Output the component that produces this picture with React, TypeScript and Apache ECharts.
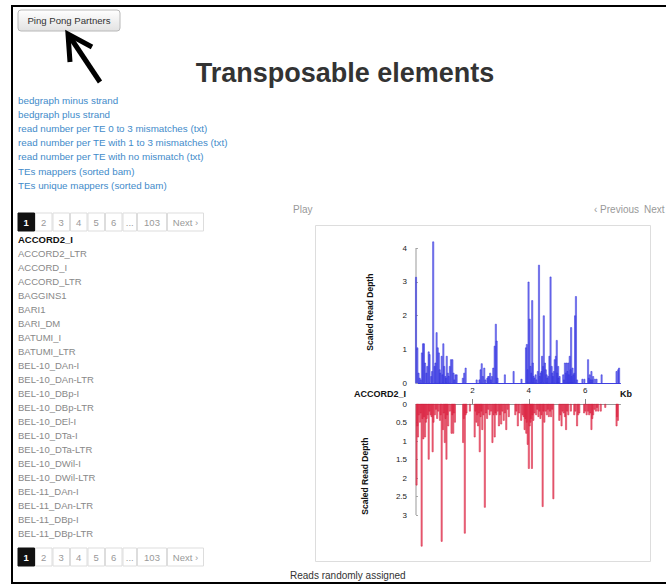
import React, { useEffect, useRef } from "react";
import * as echarts from "echarts";

// ---- Data ----
const plusKb = [0.0, 0.05, 0.09, 0.13, 0.17, 0.21, 0.25, 0.28, 0.32, 0.37, 0.4, 0.45, 0.48, 0.54, 0.57, 0.61, 0.66, 0.69, 0.73, 0.77, 0.81, 0.84, 0.86, 0.91, 0.94, 0.97, 1.0, 1.04, 1.07, 1.09, 1.13, 1.16, 1.2, 1.24, 1.29, 1.33, 1.36, 1.4, 1.44, 1.66, 1.71, 1.76, 2.15, 2.25, 2.29, 2.33, 2.37, 2.42, 2.46, 2.53, 2.56, 2.59, 2.63, 2.66, 2.69, 2.74, 2.79, 2.83, 2.86, 2.89, 3.15, 3.46, 3.74, 3.9, 3.93, 3.96, 3.99, 4.03, 4.06, 4.09, 4.12, 4.14, 4.17, 4.2, 4.24, 4.27, 4.32, 4.36, 4.39, 4.42, 4.45, 4.47, 4.51, 4.53, 4.57, 4.6, 4.63, 4.66, 4.69, 4.73, 4.77, 4.81, 4.83, 4.86, 4.89, 4.92, 4.96, 4.99, 5.01, 5.04, 5.06, 5.09, 5.22, 5.25, 5.28, 5.31, 5.34, 5.37, 5.4, 5.42, 5.45, 5.48, 5.5, 5.53, 5.55, 5.58, 5.61, 5.64, 5.67, 5.71, 5.9, 5.97, 6.1, 6.13, 6.16, 6.19, 6.22, 6.25, 6.28, 6.34, 6.4, 6.58, 7.11, 7.17, 7.2];
const plusDepth = [3.14, 1.05, 0.3, 0.15, 0.1, 0.9, 1.17, 1.17, 0.6, 0.3, 0.5, 0.93, 0.85, 0.2, 0.35, 4.19, 0.5, 0.6, 1.5, 1.05, 0.9, 0.4, 0.3, 0.8, 0.25, 1.17, 0.5, 0.2, 0.15, 0.8, 0.3, 0.2, 0.5, 0.7, 0.7, 0.3, 0.1, 0.25, 0.25, 0.15, 0.3, 0.45, 0.1, 0.1, 0.4, 0.58, 0.2, 0.45, 0.1, 0.15, 0.2, 0.2, 0.3, 0.1, 0.2, 0.45, 1.1, 1.75, 1.25, 0.15, 0.25, 0.35, 0.12, 1.05, 1.15, 0.4, 3.0, 1.9, 0.5, 0.3, 2.45, 0.6, 0.2, 0.15, 0.25, 0.1, 0.35, 3.5, 0.2, 0.3, 0.35, 0.8, 0.5, 2.0, 0.6, 0.4, 0.25, 0.15, 0.2, 0.8, 3.15, 0.5, 0.3, 0.2, 0.35, 0.7, 0.8, 1.27, 0.3, 0.5, 0.15, 0.2, 0.25, 0.1, 0.6, 0.3, 0.6, 0.35, 0.6, 0.25, 0.8, 0.4, 1.65, 0.2, 0.45, 0.25, 0.3, 2.0, 2.57, 0.1, 0.12, 0.12, 0.7, 0.15, 0.25, 0.1, 0.35, 0.1, 0.2, 0.12, 0.12, 0.25, 0.35, 0.4, 0.45];

const minusKb = [0.02, 0.05, 0.07, 0.1, 0.14, 0.17, 0.2, 0.23, 0.26, 0.29, 0.32, 0.35, 0.38, 0.42, 0.45, 0.48, 0.52, 0.55, 0.59, 0.62, 0.67, 0.71, 0.75, 0.79, 0.85, 0.88, 0.91, 0.96, 0.99, 1.02, 1.05, 1.08, 1.11, 1.14, 1.2, 1.26, 1.29, 1.32, 1.35, 1.38, 1.67, 1.7, 1.73, 1.76, 1.79, 1.91, 2.08, 2.11, 2.14, 2.17, 2.2, 2.23, 2.26, 2.29, 2.32, 2.35, 2.39, 2.44, 2.48, 2.52, 2.56, 2.61, 2.66, 2.71, 2.75, 2.79, 2.82, 2.85, 2.9, 2.94, 2.98, 3.02, 3.06, 3.11, 3.15, 3.2, 3.25, 3.29, 3.52, 3.56, 3.61, 3.66, 3.73, 3.78, 3.82, 3.85, 3.88, 3.91, 3.93, 3.96, 4.0, 4.03, 4.06, 4.08, 4.11, 4.13, 4.16, 4.2, 4.26, 4.3, 4.34, 4.38, 4.41, 4.45, 4.49, 4.52, 4.55, 4.6, 4.64, 4.68, 4.71, 4.75, 4.79, 4.83, 4.87, 5.08, 5.12, 5.16, 5.2, 5.24, 5.28, 5.32, 5.36, 5.4, 5.49, 5.61, 5.65, 5.71, 5.75, 5.79, 5.96, 6.0, 6.05, 6.1, 6.14, 6.18, 6.22, 6.25, 6.28, 6.33, 6.38, 6.42, 6.46, 6.55, 6.71, 7.11, 7.13, 7.16];
const minusDepth = [2.2, 0.6, 0.9, 0.3, 0.5, 0.25, 3.85, 0.4, 0.95, 0.35, 0.9, 0.5, 0.4, 0.3, 1.5, 0.2, 0.3, 0.35, 1.3, 0.5, 0.3, 0.15, 0.4, 0.2, 0.45, 0.3, 3.72, 0.7, 0.25, 1.05, 0.4, 1.5, 0.3, 0.6, 0.2, 0.8, 0.3, 0.8, 0.25, 0.5, 1.05, 0.4, 3.5, 0.3, 0.25, 0.2, 0.9, 0.2, 0.5, 0.3, 0.6, 0.25, 1.3, 0.35, 0.2, 0.7, 0.3, 2.8, 0.25, 0.4, 0.15, 0.3, 0.2, 1.05, 0.3, 0.9, 0.25, 0.3, 0.2, 0.6, 0.3, 0.55, 0.2, 0.45, 0.25, 0.7, 0.15, 0.35, 0.3, 0.2, 0.6, 0.25, 0.45, 0.3, 0.35, 0.7, 0.4, 0.8, 0.5, 1.1, 1.75, 0.6, 0.5, 0.4, 1.75, 0.3, 0.45, 0.25, 0.3, 0.15, 0.35, 0.2, 0.4, 0.3, 2.78, 0.2, 0.5, 0.2, 0.3, 0.15, 0.35, 0.2, 0.35, 0.15, 2.57, 0.45, 0.3, 0.6, 0.2, 0.25, 0.35, 0.7, 0.2, 0.3, 0.2, 0.3, 0.2, 0.6, 0.3, 0.25, 0.25, 0.2, 0.3, 0.2, 0.3, 0.25, 0.7, 0.4, 0.3, 0.15, 0.2, 0.1, 0.2, 0.2, 0.1, 0.6, 0.35, 0.45];

const plusTicks = [0, 1, 2, 3, 4];
const minusTicks = [0, 0.5, 1, 1.5, 2, 2.5, 3];
const kbTicks = [2, 4, 6];
const plusAxisSpan = [[0, 0], [0, 4]];
const minusAxisSpan = [[0, 0], [0, 3]];

const elementName = "ACCORD2_I";
const teList = ["ACCORD2_I", "ACCORD2_LTR", "ACCORD_I", "ACCORD_LTR", "BAGGINS1", "BARI1", "BARI_DM", "BATUMI_I", "BATUMI_LTR", "BEL-10_DAn-I", "BEL-10_DAn-LTR", "BEL-10_DBp-I", "BEL-10_DBp-LTR", "BEL-10_DEl-I", "BEL-10_DTa-I", "BEL-10_DTa-LTR", "BEL-10_DWil-I", "BEL-10_DWil-LTR", "BEL-11_DAn-I", "BEL-11_DAn-LTR", "BEL-11_DBp-I", "BEL-11_DBp-LTR"];
const links = ["bedgraph minus strand", "bedgraph plus strand", "read number per TE 0 to 3 mismatches (txt)", "read number per TE with 1 to 3 mismatches (txt)", "read number per TE with no mismatch (txt)", "TEs mappers (sorted bam)", "TEs unique mappers (sorted bam)"];
const pages = ["1", "2", "3", "4", "5", "6", "...", "103", "Next \u203a"];
const pageX = [18, 35.5, 53, 70.5, 88, 105.5, 123, 137.5, 167.5];
const pageW = [16.5, 16.5, 16.5, 16.5, 16.5, 16.5, 13.5, 29, 36];

const FONT = '"Liberation Sans", Arial, Helvetica, sans-serif';

function pager(y: number): any[] {
  const out: any[] = [];
  pages.forEach((p, i) => {
    const active = i === 0;
    out.push({
      type: "rect",
      shape: { x: pageX[i], y, width: pageW[i], height: 18 },
      style: { fill: active ? "#111" : "#fff", stroke: active ? "#111" : "#ddd", lineWidth: 1 },
    });
    out.push({
      type: "text",
      style: {
        text: p,
        x: pageX[i] + pageW[i] / 2,
        y: y + 9.5,
        align: "center",
        verticalAlign: "middle",
        textAlign: "center",
        textVerticalAlign: "middle",
        font: (active ? "bold " : "") + "9.5px " + FONT,
        fill: active ? "#fff" : "#999",
      },
    });
  });
  return out;
}

function txt(text: string, x: number, y: number, font: string, fill: string, align = "left"): any {
  return {
    type: "text",
    style: { text, x, y, font, fill, align, textAlign: align, verticalAlign: "middle", textVerticalAlign: "middle" },
  };
}

export default function App() {
  const ref = useRef<HTMLDivElement>(null);
  useEffect(() => {
    if (!ref.current) return;
    const chart = echarts.init(ref.current, null, { renderer: "svg" });

    const graphic: any[] = [
      { type: "rect", shape: { x: 12, y: 6, width: 680, height: 577 }, style: { fill: "none", stroke: "#000", lineWidth: 2 } },
      {
        type: "rect",
        shape: { x: 18, y: 10, width: 102, height: 21, r: 3 },
        style: {
          fill: new echarts.graphic.LinearGradient(0, 0, 0, 1, [
            { offset: 0, color: "#ffffff" },
            { offset: 1, color: "#e2e2e2" },
          ]),
          stroke: "#b8b8b8",
          lineWidth: 1,
        },
      },
      txt("Ping Pong Partners", 69, 20.5, "9.6px " + FONT, "#333", "center"),
      { type: "line", shape: { x1: 100, y1: 82, x2: 70, y2: 37 }, style: { stroke: "#000", lineWidth: 5 } },
      { type: "polyline", shape: { points: [[70, 62], [68, 34], [92, 47]] }, style: { stroke: "#000", lineWidth: 5, fill: "none", lineJoin: "miter" } },
      txt("Transposable elements", 345, 73, "bold 27px " + FONT, "#333", "center"),
      ...links.map((l, i) => txt(l, 18, 100.5 + i * 14.1, "9.8px " + FONT, "#428bca")),
      ...pager(213),
      ...teList.map((n, i) => txt(n, 18, 239.5 + i * 14, (i === 0 ? "bold " : "") + "9.5px " + FONT, i === 0 ? "#111" : "#888")),
      ...pager(548),
      txt("Play", 293, 209.5, "10px " + FONT, "#999"),
      txt("\u2039 Previous", 594, 209.5, "10px " + FONT, "#999"),
      txt("Next", 644, 209.5, "10px " + FONT, "#999"),
      { type: "rect", shape: { x: 315.5, y: 225.5, width: 335, height: 336 }, style: { fill: "none", stroke: "#ddd", lineWidth: 1 } },
      txt(elementName, 354, 394, "bold 9px " + FONT, "#111"),
      txt("Kb", 620, 394, "bold 9px " + FONT, "#111"),
      txt("Reads randomly assigned", 290, 575, "10px " + FONT, "#333"),
    ];

    const axisLabelStyle = { fontSize: 8, color: "#222", fontFamily: FONT };
    const nameStyle = { fontSize: 8.5, fontWeight: "bold", color: "#111", fontFamily: FONT };

    chart.setOption({
      animation: false,
      graphic,
      grid: [
        { left: 416, top: 241.25, width: 204.5, height: 141.75 },
        { left: 416, top: 404, width: 204.5, height: 144.3 },
      ],
      xAxis: [
        {
          type: "value",
          gridIndex: 0,
          min: 0,
          max: 7.25,
          splitLine: { show: false },
          axisLine: { show: true, lineStyle: { color: "#4040e0", width: 1 } },
          axisTick: { show: false },
          axisLabel: { ...axisLabelStyle, margin: 3, customValues: kbTicks },
        },
        {
          type: "value",
          gridIndex: 1,
          position: "top",
          min: 0,
          max: 7.25,
          splitLine: { show: false },
          axisLine: { show: true, lineStyle: { color: "#999", width: 1 } },
          axisTick: { show: true, length: 5, lineStyle: { color: "#888" }, customValues: kbTicks },
          axisLabel: { show: false },
        },
      ],
      yAxis: [
        {
          type: "value",
          gridIndex: 0,
          min: 0,
          max: 4.2,
          name: "Scaled Read Depth",
          nameLocation: "middle",
          nameRotate: 90,
          nameGap: 42,
          nameTextStyle: nameStyle,
          splitLine: { show: false },
          axisLine: { show: false },
          axisTick: { show: true, inside: true, length: 2, lineStyle: { color: "#aaa" }, customValues: plusTicks },
          axisLabel: { ...axisLabelStyle, margin: 9, customValues: plusTicks },
        },
        {
          type: "value",
          gridIndex: 1,
          inverse: true,
          min: 0,
          max: 3.9,
          name: "Scaled Read Depth",
          nameLocation: "middle",
          nameRotate: 90,
          nameGap: 47,
          nameTextStyle: nameStyle,
          splitLine: { show: false },
          axisLine: { show: false },
          axisTick: { show: true, inside: true, length: 2, lineStyle: { color: "#aaa" }, customValues: minusTicks },
          axisLabel: { ...axisLabelStyle, margin: 9, customValues: minusTicks },
        },
      ],
      series: [
        {
          type: "line",
          xAxisIndex: 0,
          yAxisIndex: 0,
          data: plusAxisSpan,
          symbol: "none",
          silent: true,
          z: 1,
          lineStyle: { color: "#999", width: 1 },
        },
        {
          type: "line",
          xAxisIndex: 1,
          yAxisIndex: 1,
          data: minusAxisSpan,
          symbol: "none",
          silent: true,
          z: 1,
          lineStyle: { color: "#999", width: 1 },
        },
        {
          type: "bar",
          xAxisIndex: 0,
          yAxisIndex: 0,
          barWidth: 1.7,
          z: 2,
          data: plusKb.map((k, i) => [k, plusDepth[i]]),
          itemStyle: { color: "rgba(90,90,240,0.75)", borderColor: "#2a2ad8", borderWidth: 0.5 },
        },
        {
          type: "bar",
          xAxisIndex: 1,
          yAxisIndex: 1,
          barWidth: 1.7,
          z: 2,
          data: minusKb.map((k, i) => [k, minusDepth[i]]),
          itemStyle: { color: "rgba(232,70,95,0.75)", borderColor: "#d41535", borderWidth: 0.5 },
        },
      ],
    });
    return () => chart.dispose();
  }, []);
  return <div ref={ref} style={{ position: "absolute", left: 0, top: 0, width: 666, height: 586, background: "#fff" }} />;
}
